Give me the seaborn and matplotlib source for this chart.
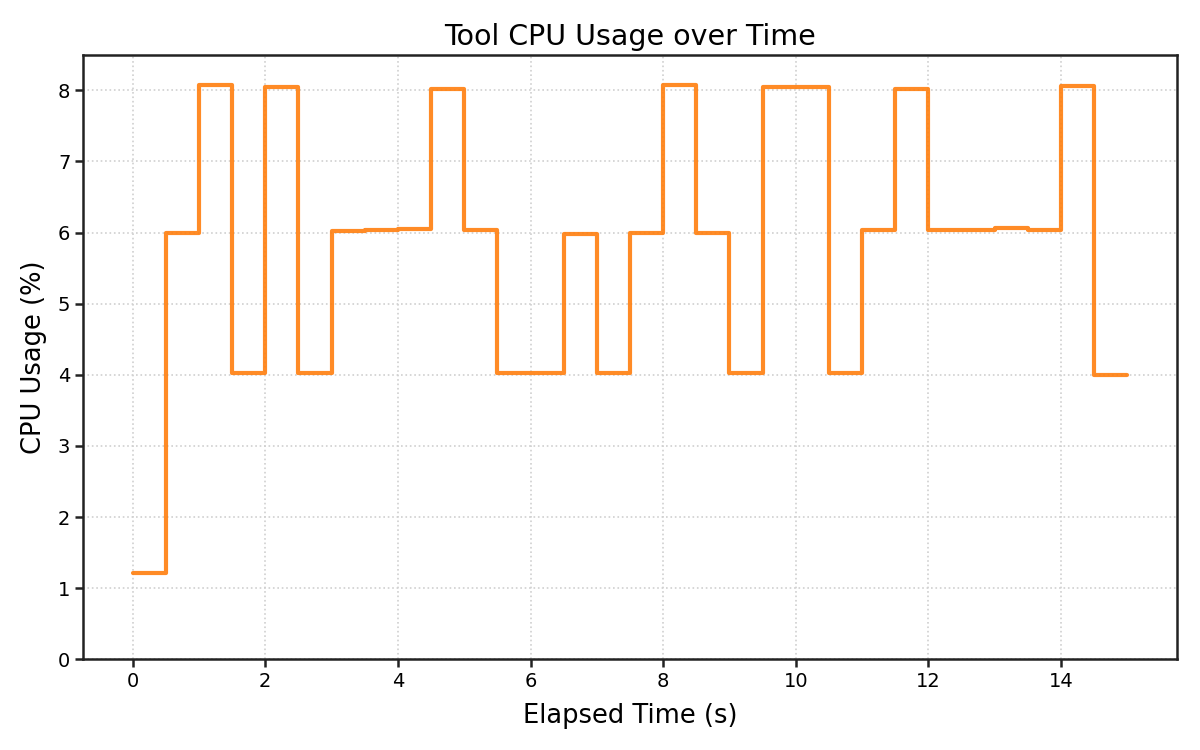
import pandas as pd
import seaborn as sns
import matplotlib
matplotlib.use("Agg")
import matplotlib.pyplot as plt

# elapsed time samples (s) and measured CPU usage (%)
elapsed = [0.0, 0.5, 1.0, 1.5, 2.0, 2.5, 3.0, 3.5, 4.0, 4.5, 5.0, 5.5, 6.0, 6.5, 7.0, 7.5,
           8.0, 8.5, 9.0, 9.5, 10.0, 10.5, 11.0, 11.5, 12.0, 12.5, 13.0, 13.5, 14.0, 14.5, 15.0]
cpu = [1.21, 6.00, 8.08, 4.02, 8.04, 4.02, 6.02, 6.03, 6.05, 8.02, 6.03, 4.02, 4.02, 5.98, 4.03, 6.00,
       8.08, 6.00, 4.02, 8.04, 8.04, 4.02, 6.03, 8.02, 6.03, 6.03, 6.06, 6.03, 8.06, 4.00, 4.00]

df = pd.DataFrame({"Elapsed Time (s)": elapsed, "CPU Usage (%)": cpu})

sns.set_style("ticks")
plt.rcParams['font.family'] = ['DejaVu Sans']
plt.rcParams['text.color'] = 'black'
plt.rcParams['axes.labelcolor'] = 'black'
plt.rcParams['xtick.color'] = '#222222'
plt.rcParams['ytick.color'] = '#222222'
plt.rcParams['xtick.labelcolor'] = 'black'
plt.rcParams['ytick.labelcolor'] = 'black'
plt.rcParams['xtick.labelsize'] = 14
plt.rcParams['ytick.labelsize'] = 14

fig, ax = plt.subplots(figsize=(12, 7.5), dpi=100)
sns.lineplot(data=df, x="Elapsed Time (s)", y="CPU Usage (%)", ax=ax,
             drawstyle="steps-post", color="#ff7f0e", alpha=0.9, linewidth=3)

ax.set_title("Tool CPU Usage over Time", fontsize=20.5, pad=7)
ax.set_xlabel("Elapsed Time (s)", fontsize=18.5, labelpad=9)
ax.set_ylabel("CPU Usage (%)", fontsize=18.5, labelpad=8)
ax.tick_params(labelsize=14, width=1.8, length=5.5)
ax.set_ylim(0, 8.5)
ax.grid(True, linestyle=":", color="#d0d0d0", linewidth=1.2)
for s in ax.spines.values():
    s.set_visible(True)
    s.set_color("#222222")
    s.set_linewidth(1.8)

fig.subplots_adjust(left=0.069, right=0.981, top=0.927, bottom=0.121)
plt.savefig("out.png", dpi=100)
